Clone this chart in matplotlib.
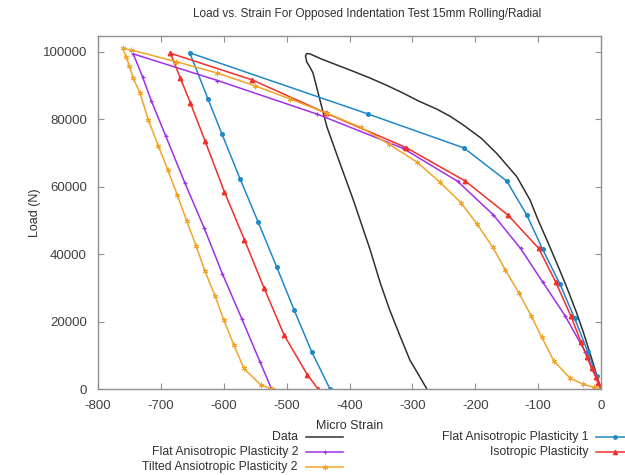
import matplotlib
matplotlib.use('Agg')
import matplotlib.pyplot as plt
from matplotlib.lines import Line2D

plt.rcParams['font.family'] = ['Liberation Sans', 'DejaVu Sans']
plt.rcParams['axes.unicode_minus'] = False

# measured data (micro strain, load N)
data_x = [0, -1.6, -9, -17.5, -28, -38.6, -53, -68, -84, -100, -113, -134, -166, -190, -219, -240, -261, -290,
          -314, -340, -367, -395, -420, -445, -463, -468, -470, -468, -463, -458, -447, -436, -418, -394, -367,
          -351, -336, -320, -304, -290, -277]
data_y = [0, 700, 5500, 10600, 16800, 22500, 29500, 36300, 43300, 50100, 56100, 63000, 69900, 74300, 78300,
          80900, 83000, 85400, 87700, 90000, 92200, 94300, 96100, 97900, 99400, 99500, 98800, 97000, 95500,
          93700, 85700, 77800, 68400, 56100, 41200, 31400, 23400, 15900, 8600, 4200, 0]

flat1_x = [0, -7, -21, -42, -65, -93, -118, -150, -218, -371, -654,
           -625, -603, -574, -545, -516, -488, -460, -431]
flat1_y = [0, 4000, 11000, 21000, 31000, 41500, 51600, 61700, 71500, 81600, 99700,
           86000, 75700, 62300, 49400, 36300, 23400, 11000, 0]

flat2_x = [0, -25, -57, -93, -128, -171, -228, -315, -451, -610, -744,
           -729, -715, -692, -662, -631, -602, -571, -542, -524]
flat2_y = [0, 11000, 21700, 31800, 41700, 51600, 61600, 71400, 81500, 91500, 99400,
           92500, 85400, 74900, 61200, 47700, 34100, 20700, 7900, 0]

iso_x = [0, -5, -8.5, -15, -22, -32, -48, -72, -99, -148, -216, -310, -437, -555, -685,
         -669, -653, -630, -599, -567, -536, -504, -467, -450]
iso_y = [0, 1700, 3650, 6100, 9400, 14000, 21700, 31700, 41700, 51600, 61700, 71600, 81800, 91700, 99600,
         92200, 84800, 73700, 58500, 44200, 30000, 16000, 4200, 0]

tilt_x = [0, -11, -28, -49, -75, -94, -111, -131, -152, -172, -197, -223, -256, -292, -337, -382,
          -436, -494, -550, -610, -676, -748, -761,
          -755, -750, -744, -733, -720, -704, -689, -674, -659, -644, -630, -614, -600, -584, -568, -541, -524]
tilt_y = [0, 500, 1400, 3200, 8300, 15300, 21700, 28600, 35300, 42000, 48900, 55300, 61300, 67200, 72600, 77600,
          81800, 86000, 89900, 93700, 97100, 100600, 101100,
          98400, 95800, 92200, 87700, 79800, 72100, 65000, 57600, 49900, 42500, 35000, 27700, 20500, 13100, 6100, 1200, 0]

xticks = [-800, -700, -600, -500, -400, -300, -200, -100, 0]
yticks = [0, 20000, 40000, 60000, 80000, 100000]

fig = plt.figure(figsize=(6.25, 4.75), dpi=100)
ax = fig.add_axes([98/625, 1 - 389/475, 503/625, 353/475])

lw = 1.1
ax.plot(data_x, data_y, color='#303030', lw=lw, solid_joinstyle='round')
ax.plot(flat1_x, flat1_y, color='#1f88c9', lw=lw, marker='o', ms=2.6)
ax.plot(flat2_x, flat2_y, color='#a030e6', lw=lw, marker='+', ms=3.5, mew=0.9)
ax.plot(iso_x, iso_y, color='#f0302a', lw=lw, marker='^', ms=3.2)
ax.plot(tilt_x, tilt_y, color='#f0a52a', lw=lw, marker=(6, 2, 0), ms=4, mew=0.7)

ax.set_xlim(-800, 0)
ax.set_ylim(0, 104700)
ax.set_xticks(xticks)
ax.set_yticks(yticks)
for s in ax.spines.values():
    s.set_color('#909090')
    s.set_linewidth(1)
ax.tick_params(direction='in', length=4, top=True, right=True, color='#909090',
               labelsize=9.5, labelcolor='#404040')
ax.tick_params(axis='x', pad=8)
ax.tick_params(axis='y', pad=8)

ax.set_xlabel('Micro Strain', fontsize=9, color='#303030', labelpad=6)
ax.set_ylabel('Load (N)', fontsize=9, color='#303030', labelpad=1)
fig.text(367/625, 1 - 14/475, 'Load vs. Strain For Opposed Indentation Test 15mm Rolling/Radial',
         ha='center', va='center', fontsize=8.5, color='#303030')

# gnuplot-like key below the plot, text right of the sample line
entries = [
    ('Data', '#303030', None, 0, 298, 437),
    ('Flat Anisotropic Plasticity 1', '#1f88c9', 'o', 2.6, 588, 437),
    ('Flat Anisotropic Plasticity 2', '#a030e6', '+', 3.5, 298, 452),
    ('Isotropic Plasticity', '#f0302a', '^', 3.2, 588, 452),
    ('Tilted Ansiotropic Plasticity 2', '#f0a52a', (6, 2, 0), 4, 298, 467),
]
for label, col, mk, ms, xr, yy in entries:
    yf = 1 - yy / 475
    fig.text(xr / 625, yf, label, ha='right', va='center', fontsize=8.8, color='#303030')
    x0 = (xr + 8) / 625
    x1 = (xr + 45) / 625
    fig.add_artist(Line2D([x0, x1], [yf, yf], color=col, lw=lw, transform=fig.transFigure))
    if mk is not None:
        fig.add_artist(Line2D([(x0 + x1) / 2], [yf], color=col, marker=mk, ms=ms, mew=0.8,
                              transform=fig.transFigure))

plt.savefig('out.png', dpi=100)
